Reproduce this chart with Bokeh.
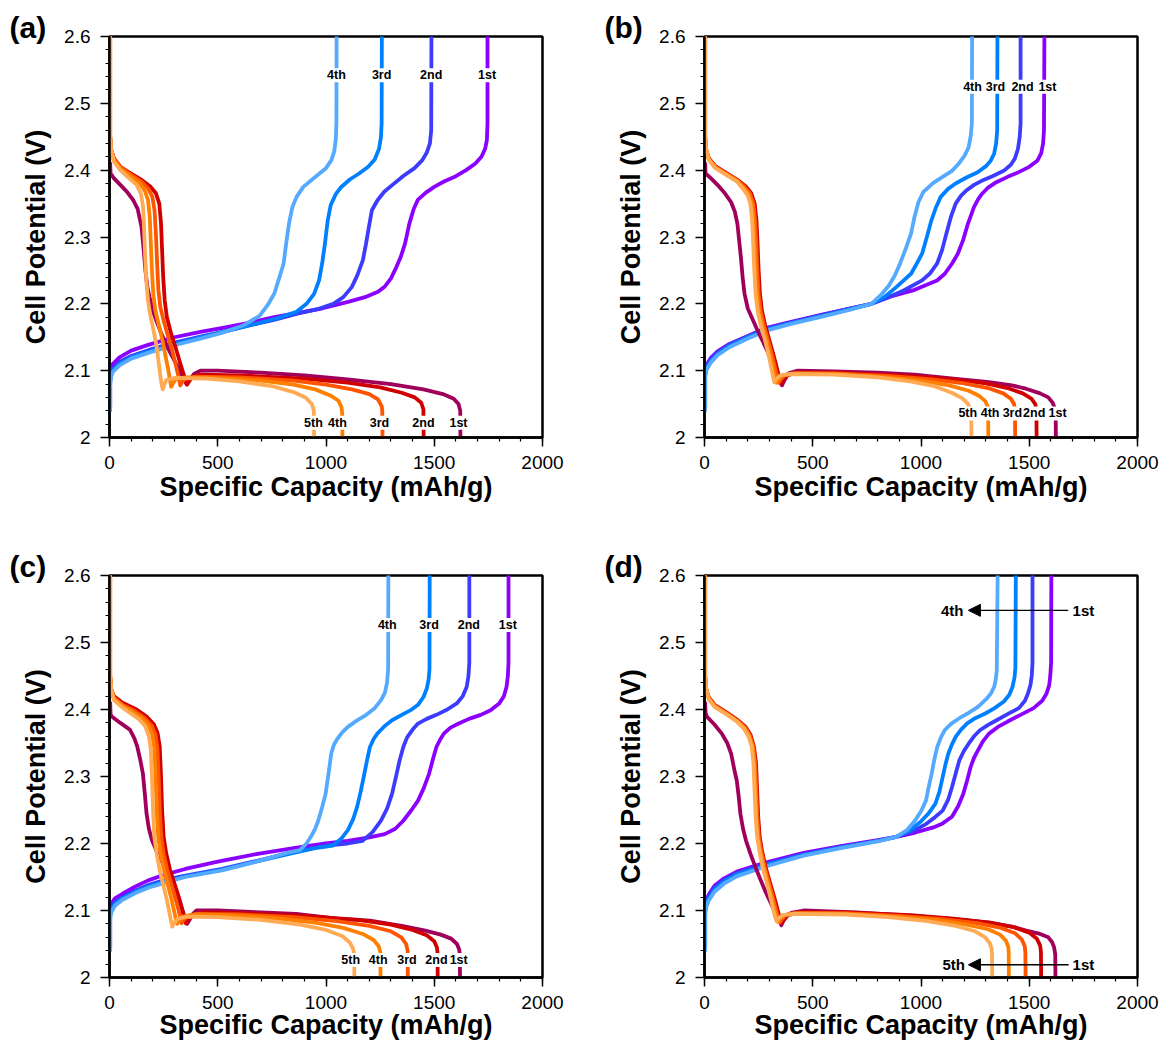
from bokeh.plotting import figure
from bokeh.models import FixedTicker, Label, LabelSet, ColumnDataSource, Arrow, NormalHead, Range1d, Title
from bokeh.core.properties import value
from bokeh.layouts import column, row
from bokeh.embed import file_html
from bokeh.resources import INLINE

DIS_COLORS = ["#A0005C", "#D00000", "#FF5500", "#FF8000", "#FFAA55"]
CHG_COLORS = ["#8B00FF", "#3C3CFF", "#0080FF", "#55AAFF"]
TICK_X = [0, 500, 1000, 1500, 2000]
TICK_Y = [2.0, 2.1, 2.2, 2.3, 2.4, 2.5, 2.6]
X_TITLE = "Specific Capacity (mAh/g)"
Y_TITLE = "Cell Potential (V)"

# ---------------- panel (a) ----------------
A_D1 = [(3,2.41),(5,2.395),(20,2.388),(50,2.378),(80,2.368),(110,2.355),(130,2.342),(148,2.315),(158,2.28),(166,2.25),(175,2.225),(185,2.21),(200,2.19),(216,2.175),(240,2.155),(268,2.135),(295,2.118),(320,2.103),(340,2.09),(355,2.08),(368,2.085),(390,2.095),(420,2.1),(500,2.1),(700,2.097),(900,2.093),(1100,2.087),(1300,2.08),(1450,2.072),(1540,2.065),(1590,2.058),(1612,2.05),(1620,2.04),(1621,2.0)]
A_D2 = [(3,2.6),(3,2.45),(8,2.43),(20,2.418),(50,2.405),(100,2.395),(150,2.385),(190,2.375),(215,2.365),(230,2.35),(238,2.32),(243,2.28),(248,2.24),(255,2.205),(265,2.18),(285,2.155),(305,2.135),(325,2.113),(340,2.097),(352,2.085),(358,2.079),(366,2.083),(380,2.09),(420,2.094),(600,2.093),(900,2.088),(1100,2.082),(1250,2.075),(1350,2.067),(1410,2.06),(1440,2.052),(1450,2.042),(1451,2.0)]
A_D3 = [(3,2.6),(3,2.45),(8,2.43),(20,2.418),(50,2.405),(100,2.393),(150,2.382),(180,2.372),(198,2.36),(208,2.34),(215,2.3),(220,2.26),(226,2.22),(235,2.195),(250,2.175),(270,2.152),(290,2.13),(305,2.11),(318,2.092),(327,2.078),(335,2.083),(350,2.088),(400,2.091),(600,2.09),(850,2.085),(1000,2.079),(1120,2.072),(1200,2.065),(1240,2.057),(1257,2.047),(1260,2.04),(1261,2.0)]
A_D4 = [(3,2.6),(3,2.45),(8,2.43),(20,2.415),(50,2.402),(100,2.39),(140,2.38),(165,2.368),(178,2.355),(186,2.33),(191,2.29),(196,2.25),(202,2.215),(212,2.19),(228,2.168),(245,2.145),(260,2.12),(272,2.1),(280,2.085),(285,2.076),(292,2.08),(305,2.087),(350,2.09),(500,2.089),(700,2.085),(850,2.079),(950,2.072),(1020,2.063),(1058,2.055),(1072,2.045),(1075,2.035),(1076,2.0)]
A_D5 = [(3,2.6),(3,2.45),(8,2.43),(20,2.413),(50,2.4),(90,2.388),(125,2.378),(145,2.365),(155,2.345),(160,2.31),(165,2.27),(170,2.235),(178,2.205),(190,2.18),(205,2.158),(218,2.135),(228,2.11),(236,2.09),(242,2.077),(246,2.072),(252,2.078),(262,2.086),(300,2.089),(450,2.088),(600,2.084),(750,2.077),(850,2.068),(905,2.06),(935,2.05),(944,2.04),(945,2.0)]
A_C1 = [(3,2.045),(3,2.09),(6,2.102),(15,2.11),(46,2.12),(100,2.13),(182,2.139),(300,2.15),(420,2.158),(523,2.164),(650,2.172),(760,2.18),(864,2.186),(980,2.193),(1102,2.203),(1180,2.21),(1240,2.218),(1272,2.226),(1300,2.238),(1325,2.255),(1345,2.27),(1365,2.29),(1385,2.32),(1405,2.342),(1425,2.356),(1460,2.366),(1500,2.375),(1545,2.383),(1600,2.391),(1647,2.4),(1690,2.41),(1718,2.42),(1735,2.432),(1743,2.445),(1746,2.47),(1746,2.6)]
A_C2 = [(3,2.045),(3,2.085),(6,2.095),(15,2.103),(46,2.113),(100,2.122),(182,2.131),(300,2.142),(420,2.151),(523,2.158),(650,2.168),(760,2.176),(864,2.185),(960,2.192),(1034,2.2),(1080,2.21),(1119,2.225),(1145,2.243),(1170,2.265),(1185,2.29),(1198,2.315),(1212,2.34),(1238,2.355),(1270,2.368),(1307,2.378),(1360,2.392),(1409,2.403),(1445,2.415),(1465,2.426),(1480,2.44),(1486,2.46),(1487,2.6)]
A_C3 = [(3,2.045),(3,2.082),(6,2.092),(15,2.1),(46,2.11),(100,2.12),(182,2.129),(300,2.14),(420,2.15),(523,2.158),(650,2.168),(760,2.177),(864,2.188),(910,2.2),(945,2.215),(968,2.235),(983,2.262),(995,2.29),(1008,2.325),(1022,2.348),(1045,2.364),(1068,2.374),(1110,2.386),(1153,2.395),(1195,2.405),(1225,2.416),(1245,2.432),(1254,2.45),(1257,2.47),(1258,2.6)]
A_C4 = [(3,2.04),(3,2.08),(6,2.09),(15,2.098),(46,2.108),(100,2.118),(182,2.127),(300,2.138),(420,2.148),(523,2.157),(620,2.168),(693,2.182),(730,2.198),(761,2.215),(785,2.24),(804,2.26),(818,2.295),(830,2.322),(845,2.345),(864,2.36),(895,2.375),(932,2.385),(970,2.395),(1000,2.403),(1025,2.415),(1038,2.428),(1045,2.445),(1048,2.47),(1049,2.6)]
A_CHG_LBL = ["4th", "3rd", "2nd", "1st"]
A_CHG_LBL_X = [1048, 1257, 1486, 1744]
A_CHG_LBL_Y = 2.542
A_DIS_LBL = ["5th", "4th", "3rd", "2nd", "1st"]
A_DIS_LBL_X = [942, 1053, 1247, 1450, 1612]
A_DIS_LBL_Y = 2.022

# ---------------- panel (b) ----------------
B_D1 = [(3,2.41),(5,2.395),(29,2.388),(60,2.378),(95,2.365),(123,2.352),(140,2.338),(152,2.32),(160,2.295),(168,2.27),(176,2.24),(185,2.215),(200,2.193),(218,2.18),(245,2.16),(269,2.144),(295,2.126),(320,2.108),(340,2.092),(352,2.082),(358,2.078),(368,2.085),(389,2.096),(430,2.1),(600,2.099),(800,2.097),(971,2.094),(1150,2.088),(1314,2.083),(1420,2.078),(1485,2.073),(1550,2.066),(1588,2.06),(1608,2.052),(1618,2.044),(1622,2.035),(1623,2.0)]
B_D2 = [(3,2.6),(3,2.45),(8,2.43),(20,2.418),(50,2.406),(100,2.396),(150,2.386),(190,2.376),(215,2.366),(232,2.35),(240,2.325),(245,2.29),(250,2.25),(256,2.215),(265,2.19),(280,2.168),(300,2.145),(320,2.122),(335,2.103),(345,2.09),(352,2.081),(360,2.085),(380,2.093),(430,2.097),(600,2.097),(900,2.093),(1150,2.087),(1300,2.081),(1400,2.074),(1470,2.066),(1510,2.058),(1528,2.05),(1533,2.04),(1534,2.0)]
B_D3 = [(3,2.6),(3,2.45),(8,2.43),(20,2.417),(50,2.405),(100,2.395),(150,2.385),(185,2.375),(210,2.365),(226,2.35),(234,2.325),(239,2.29),(244,2.25),(250,2.215),(259,2.19),(274,2.168),(294,2.145),(313,2.122),(327,2.103),(336,2.09),(342,2.082),(350,2.086),(370,2.093),(420,2.096),(600,2.096),(850,2.092),(1050,2.087),(1200,2.081),(1310,2.074),(1380,2.066),(1415,2.058),(1430,2.05),(1434,2.04),(1435,2.0)]
B_D4 = [(3,2.6),(3,2.45),(8,2.43),(20,2.416),(50,2.404),(100,2.394),(150,2.384),(180,2.374),(204,2.364),(219,2.35),(227,2.325),(232,2.29),(237,2.25),(243,2.215),(252,2.19),(267,2.168),(287,2.145),(305,2.122),(318,2.103),(326,2.09),(332,2.082),(340,2.086),(360,2.093),(410,2.096),(600,2.095),(800,2.091),(1000,2.085),(1130,2.078),(1220,2.07),(1270,2.062),(1298,2.054),(1308,2.046),(1310,2.038),(1311,2.0)]
B_D5 = [(3,2.6),(3,2.45),(8,2.43),(20,2.415),(50,2.403),(100,2.393),(150,2.383),(175,2.373),(198,2.363),(212,2.35),(220,2.325),(225,2.29),(230,2.25),(236,2.215),(245,2.19),(260,2.168),(280,2.145),(297,2.122),(309,2.103),(317,2.09),(322,2.083),(330,2.087),(350,2.093),(400,2.095),(600,2.094),(800,2.09),(950,2.084),(1060,2.077),(1142,2.067),(1190,2.059),(1215,2.051),(1228,2.043),(1232,2.036),(1233,2.0)]
B_C1 = [(3,2.045),(3,2.1),(8,2.108),(29,2.119),(60,2.129),(115,2.14),(200,2.152),(286,2.164),(400,2.173),(543,2.184),(660,2.192),(771,2.2),(870,2.212),(971,2.221),(1074,2.235),(1110,2.245),(1143,2.26),(1170,2.275),(1194,2.295),(1215,2.318),(1245,2.345),(1265,2.357),(1280,2.364),(1310,2.374),(1348,2.382),(1400,2.39),(1451,2.397),(1500,2.405),(1537,2.414),(1555,2.425),(1564,2.44),(1568,2.46),(1570,2.6)]
B_C2 = [(3,2.045),(3,2.097),(8,2.105),(29,2.117),(60,2.127),(115,2.139),(200,2.151),(286,2.163),(400,2.172),(543,2.183),(660,2.192),(771,2.2),(850,2.21),(920,2.22),(1005,2.235),(1040,2.245),(1074,2.26),(1097,2.28),(1117,2.305),(1138,2.33),(1160,2.35),(1185,2.362),(1211,2.37),(1245,2.378),(1280,2.384),(1330,2.391),(1382,2.399),(1415,2.408),(1433,2.417),(1448,2.432),(1456,2.45),(1460,2.47),(1460,2.6)]
B_C3 = [(3,2.045),(3,2.093),(8,2.102),(29,2.114),(60,2.125),(115,2.137),(200,2.15),(286,2.162),(400,2.171),(543,2.182),(660,2.191),(771,2.2),(830,2.21),(886,2.225),(920,2.235),(954,2.245),(980,2.26),(1005,2.275),(1027,2.3),(1048,2.325),(1070,2.345),(1091,2.36),(1125,2.372),(1160,2.38),(1210,2.389),(1262,2.397),(1300,2.406),(1322,2.414),(1338,2.425),(1347,2.44),(1352,2.46),(1353,2.6)]
B_C4 = [(3,2.04),(3,2.09),(8,2.1),(29,2.112),(60,2.123),(115,2.135),(200,2.148),(286,2.16),(400,2.17),(543,2.181),(660,2.19),(771,2.2),(820,2.215),(851,2.227),(880,2.243),(903,2.26),(930,2.283),(954,2.305),(970,2.33),(988,2.352),(1010,2.367),(1057,2.381),(1100,2.39),(1143,2.399),(1175,2.41),(1200,2.421),(1220,2.434),(1230,2.452),(1235,2.47),(1236,2.6)]
B_CHG_LBL = ["4th", "3rd", "2nd", "1st"]
B_CHG_LBL_X = [1238, 1344, 1469, 1584]
B_CHG_LBL_Y = 2.525
B_DIS_LBL = ["5th", "4th", "3rd", "2nd", "1st"]
B_DIS_LBL_X = [1216, 1319, 1422, 1523, 1631]
B_DIS_LBL_Y = 2.036

# ---------------- panel (c) ----------------
C_D1 = [(3,2.41),(5,2.393),(9,2.39),(50,2.38),(94,2.37),(115,2.357),(128,2.345),(142,2.325),(154,2.305),(163,2.275),(171,2.245),(182,2.222),(196,2.205),(220,2.187),(247,2.17),(275,2.152),(299,2.135),(320,2.118),(338,2.1),(350,2.087),(358,2.08),(368,2.085),(385,2.095),(401,2.1),(500,2.1),(700,2.097),(862,2.095),(1050,2.088),(1203,2.085),(1350,2.077),(1459,2.07),(1530,2.064),(1578,2.058),(1605,2.05),(1615,2.042),(1618,2.035),(1619,2.0)]
C_D2 = [(3,2.6),(3,2.45),(8,2.43),(20,2.42),(60,2.41),(125,2.4),(170,2.39),(205,2.378),(222,2.365),(232,2.345),(238,2.3),(243,2.25),(250,2.21),(262,2.185),(280,2.16),(300,2.14),(320,2.12),(335,2.102),(345,2.089),(352,2.081),(360,2.085),(380,2.093),(430,2.097),(600,2.096),(900,2.092),(1150,2.086),(1300,2.079),(1400,2.071),(1465,2.063),(1500,2.054),(1512,2.045),(1515,2.038),(1516,2.0)]
C_D3 = [(3,2.6),(3,2.45),(8,2.43),(20,2.418),(60,2.407),(115,2.398),(160,2.388),(195,2.376),(212,2.363),(221,2.343),(227,2.3),(232,2.25),(239,2.21),(250,2.185),(267,2.16),(285,2.14),(303,2.12),(318,2.102),(327,2.089),(333,2.081),(340,2.085),(360,2.092),(410,2.095),(600,2.094),(850,2.09),(1050,2.084),(1200,2.077),(1300,2.069),(1348,2.06),(1370,2.05),(1377,2.04),(1378,2.0)]
C_D4 = [(3,2.6),(3,2.45),(8,2.43),(20,2.416),(60,2.405),(105,2.397),(150,2.387),(180,2.376),(198,2.362),(207,2.343),(213,2.3),(218,2.25),(225,2.21),(236,2.185),(252,2.16),(268,2.14),(284,2.12),(298,2.1),(306,2.088),(312,2.08),(320,2.084),(340,2.091),(390,2.094),(550,2.093),(750,2.089),(950,2.082),(1080,2.074),(1170,2.065),(1220,2.056),(1243,2.047),(1251,2.038),(1252,2.0)]
C_D5 = [(3,2.6),(3,2.45),(8,2.43),(20,2.414),(60,2.403),(90,2.396),(135,2.386),(165,2.375),(182,2.36),(191,2.34),(196,2.3),(201,2.25),(207,2.21),(218,2.185),(232,2.16),(247,2.14),(262,2.12),(275,2.1),(284,2.085),(290,2.076),(298,2.081),(315,2.088),(360,2.091),(500,2.09),(700,2.086),(880,2.079),(1000,2.071),(1075,2.062),(1110,2.052),(1125,2.043),(1130,2.035),(1131,2.0)]
C_C1 = [(3,2.045),(3,2.1),(8,2.11),(25,2.118),(60,2.125),(120,2.136),(179,2.145),(260,2.154),(350,2.162),(500,2.173),(691,2.185),(850,2.193),(998,2.2),(1100,2.204),(1200,2.209),(1271,2.214),(1320,2.222),(1357,2.234),(1395,2.25),(1425,2.264),(1452,2.283),(1476,2.304),(1494,2.326),(1510,2.344),(1527,2.355),(1544,2.364),(1575,2.373),(1613,2.379),(1660,2.386),(1715,2.392),(1760,2.399),(1800,2.409),(1822,2.42),(1834,2.434),(1840,2.45),(1843,2.47),(1843,2.6)]
C_C2 = [(3,2.045),(3,2.095),(8,2.104),(25,2.113),(60,2.12),(120,2.13),(179,2.138),(260,2.146),(350,2.152),(520,2.162),(691,2.175),(850,2.187),(998,2.197),(1100,2.2),(1169,2.204),(1215,2.217),(1254,2.234),(1282,2.252),(1305,2.274),(1322,2.298),(1340,2.324),(1357,2.344),(1374,2.358),(1400,2.37),(1425,2.379),(1465,2.386),(1510,2.392),(1560,2.4),(1604,2.409),(1632,2.42),(1650,2.434),(1658,2.45),(1662,2.47),(1662,2.6)]
C_C3 = [(3,2.045),(3,2.092),(8,2.101),(25,2.11),(60,2.118),(120,2.128),(179,2.136),(260,2.144),(350,2.151),(520,2.161),(691,2.174),(850,2.186),(950,2.193),(1032,2.197),(1070,2.207),(1101,2.22),(1125,2.236),(1143,2.254),(1160,2.277),(1177,2.304),(1190,2.325),(1203,2.344),(1220,2.356),(1237,2.364),(1270,2.375),(1305,2.384),(1350,2.392),(1391,2.399),(1425,2.407),(1451,2.419),(1466,2.432),(1474,2.445),(1478,2.46),(1479,2.6)]
C_C4 = [(3,2.04),(3,2.088),(8,2.097),(25,2.107),(60,2.116),(120,2.126),(179,2.134),(260,2.142),(350,2.15),(520,2.16),(691,2.174),(820,2.186),(879,2.19),(910,2.2),(930,2.21),(950,2.222),(964,2.234),(982,2.254),(998,2.274),(1012,2.305),(1024,2.334),(1036,2.347),(1050,2.355),(1075,2.366),(1101,2.374),(1140,2.383),(1186,2.392),(1225,2.402),(1254,2.414),(1272,2.425),(1282,2.44),(1287,2.46),(1288,2.6)]
C_CHG_LBL = ["4th", "3rd", "2nd", "1st"]
C_CHG_LBL_X = [1283, 1476, 1660, 1840]
C_CHG_LBL_Y = 2.526
C_DIS_LBL = ["5th", "4th", "3rd", "2nd", "1st"]
C_DIS_LBL_X = [1114, 1241, 1374, 1510, 1613]
C_DIS_LBL_Y = 2.026

# ---------------- panel (d) ----------------
D_D1 = [(3,2.41),(5,2.395),(12,2.389),(45,2.378),(80,2.364),(105,2.35),(123,2.334),(138,2.31),(149,2.294),(158,2.27),(166,2.244),(178,2.222),(192,2.204),(212,2.185),(235,2.165),(260,2.145),(286,2.125),(312,2.107),(338,2.09),(350,2.082),(355,2.078),(365,2.085),(385,2.094),(406,2.097),(458,2.1),(700,2.097),(972,2.092),(1150,2.087),(1314,2.082),(1420,2.076),(1486,2.07),(1550,2.065),(1588,2.06),(1605,2.053),(1614,2.046),(1620,2.035),(1621,2.0)]
D_D2 = [(3,2.6),(3,2.45),(8,2.43),(20,2.418),(50,2.406),(100,2.396),(150,2.385),(190,2.374),(213,2.362),(228,2.345),(238,2.32),(243,2.28),(248,2.24),(255,2.21),(265,2.19),(282,2.165),(302,2.142),(322,2.12),(337,2.102),(347,2.09),(355,2.081),(363,2.085),(385,2.093),(440,2.097),(650,2.097),(950,2.093),(1150,2.088),(1320,2.082),(1430,2.075),(1500,2.067),(1535,2.058),(1550,2.048),(1554,2.038),(1555,2.0)]
D_D3 = [(3,2.6),(3,2.45),(8,2.43),(20,2.417),(50,2.405),(100,2.395),(150,2.384),(188,2.373),(210,2.361),(225,2.345),(234,2.32),(239,2.28),(244,2.24),(251,2.21),(261,2.19),(278,2.165),(297,2.142),(316,2.12),(330,2.102),(340,2.09),(347,2.082),(355,2.086),(375,2.093),(430,2.096),(650,2.096),(900,2.092),(1100,2.087),(1260,2.081),(1370,2.074),(1435,2.066),(1465,2.057),(1479,2.047),(1482,2.038),(1483,2.0)]
D_D4 = [(3,2.6),(3,2.45),(8,2.43),(20,2.416),(50,2.404),(100,2.394),(150,2.383),(186,2.372),(207,2.36),(222,2.345),(230,2.32),(235,2.28),(240,2.24),(247,2.21),(257,2.19),(273,2.165),(292,2.142),(310,2.12),(323,2.102),(333,2.09),(340,2.083),(348,2.087),(368,2.093),(420,2.096),(650,2.095),(880,2.091),(1070,2.086),(1210,2.079),(1310,2.072),(1365,2.064),(1392,2.055),(1403,2.046),(1405,2.038),(1406,2.0)]
D_D5 = [(3,2.6),(3,2.45),(8,2.43),(20,2.415),(50,2.403),(100,2.393),(150,2.382),(183,2.371),(204,2.359),(218,2.345),(226,2.32),(231,2.28),(236,2.24),(243,2.21),(253,2.19),(268,2.165),(287,2.142),(304,2.12),(317,2.102),(326,2.09),(333,2.084),(341,2.088),(360,2.093),(410,2.095),(650,2.094),(850,2.09),(1030,2.084),(1160,2.077),(1250,2.069),(1297,2.06),(1318,2.051),(1326,2.043),(1328,2.036),(1329,2.0)]
D_C1 = [(3,2.045),(3,2.105),(8,2.115),(20,2.124),(46,2.137),(90,2.148),(149,2.158),(286,2.172),(458,2.186),(629,2.196),(800,2.205),(886,2.21),(970,2.216),(1057,2.224),(1100,2.23),(1143,2.24),(1172,2.256),(1195,2.274),(1213,2.294),(1229,2.314),(1245,2.328),(1263,2.339),(1285,2.352),(1314,2.364),(1355,2.374),(1400,2.382),(1460,2.392),(1520,2.402),(1560,2.413),(1580,2.424),(1592,2.436),(1597,2.45),(1601,2.47),(1602,2.6)]
D_C2 = [(3,2.045),(3,2.102),(8,2.112),(20,2.121),(46,2.134),(90,2.146),(149,2.156),(286,2.17),(458,2.184),(629,2.195),(800,2.204),(886,2.21),(960,2.218),(1023,2.229),(1060,2.238),(1100,2.249),(1125,2.265),(1143,2.284),(1160,2.304),(1177,2.324),(1198,2.338),(1220,2.349),(1245,2.36),(1272,2.369),(1310,2.377),(1349,2.384),(1400,2.393),(1452,2.402),(1480,2.413),(1494,2.424),(1506,2.437),(1512,2.452),(1515,2.47),(1515,2.6)]
D_C3 = [(3,2.045),(3,2.098),(8,2.109),(20,2.118),(46,2.131),(90,2.143),(149,2.154),(286,2.168),(458,2.183),(629,2.194),(800,2.204),(886,2.21),(950,2.22),(997,2.232),(1035,2.245),(1066,2.259),(1085,2.277),(1100,2.299),(1113,2.318),(1126,2.334),(1143,2.348),(1160,2.359),(1185,2.37),(1212,2.379),(1250,2.387),(1297,2.394),(1340,2.402),(1383,2.412),(1408,2.422),(1423,2.434),(1432,2.448),(1436,2.462),(1438,2.6)]
D_C4 = [(3,2.04),(3,2.094),(8,2.105),(20,2.115),(46,2.128),(90,2.14),(149,2.151),(286,2.166),(458,2.182),(629,2.193),(800,2.203),(886,2.21),(935,2.22),(972,2.234),(1000,2.248),(1023,2.264),(1036,2.285),(1049,2.304),(1062,2.326),(1075,2.344),(1090,2.357),(1109,2.369),(1140,2.379),(1177,2.387),(1220,2.395),(1263,2.404),(1300,2.415),(1323,2.424),(1338,2.434),(1345,2.444),(1350,2.458),(1354,2.6)]
# arrow annotations of panel (d): (text_left, text_right, y, x_text_left_end, x_arrow_tip, x_arrow_tail, x_text_right_start)
D_ARROW_TOP = ("4th", "1st", 2.548, 1196, 1219, 1680, 1700)
D_ARROW_BOT = ("5th", "1st", 2.019, 1203, 1219, 1682, 1700)

FONT = "Liberation Sans"


def xy(pts):
    return [q[0] for q in pts], [q[1] for q in pts]


def make_panel(tag, dis, chg, w, h, bl, br, bt, bb, bottom_row):
    p = figure(width=w, height=h, x_range=Range1d(0, 2000), y_range=Range1d(2.0, 2.6),
               output_backend="svg", toolbar_location=None, title=tag,
               min_border_left=bl, min_border_right=br, min_border_top=bt, min_border_bottom=bb,
               y_axis_label=Y_TITLE)
    p.title.align = "left"
    p.title.offset = -100
    p.title.standoff = -14
    p.title.vertical_align = "bottom"
    p.title.text_font = FONT
    p.title.text_font_style = "bold"
    p.title.text_font_size = "30px"
    p.title.text_color = "black"
    p.grid.visible = False
    p.outline_line_color = "black"
    p.outline_line_width = 2.5
    p.outline_line_alpha = 1.0
    p.xaxis.ticker = FixedTicker(ticks=TICK_X, minor_ticks=list(range(0, 2001, 100)))
    p.yaxis.ticker = FixedTicker(ticks=TICK_Y, minor_ticks=[round(2.0 + 0.02 * i, 2) for i in range(31)])
    p.yaxis.major_label_overrides = {2.0: "2"}
    for ax in (p.xaxis[0], p.yaxis[0]):
        ax.axis_line_width = 2.5
        ax.axis_line_color = "black"
        ax.major_tick_line_width = 1.5
        ax.minor_tick_line_width = 1.2
        ax.major_tick_out = 9
        ax.major_tick_in = 0
        ax.minor_tick_out = 4
        ax.minor_tick_in = 0
        ax.major_label_text_font = FONT
        ax.major_label_text_font_size = "19px"
        ax.major_label_text_color = "black"
        ax.axis_label_text_font = FONT
        ax.axis_label_text_font_style = "bold"
        ax.axis_label_text_font_size = "27px"
        ax.axis_label_text_color = "black"
    p.yaxis.major_label_standoff = 10
    p.yaxis.axis_label_standoff = 10
    p.xaxis.major_label_standoff = 9
    if bottom_row:
        # x title placed in a thin panel below the axis so that the frame keeps its size;
        # like the original, it runs off the bottom edge of the picture
        p.add_layout(Title(text=X_TITLE, align="center", vertical_align="bottom", standoff=-8,
                           text_font=FONT, text_font_style="bold", text_font_size="27px",
                           text_color="black"), "below")
    else:
        p.xaxis.axis_label = X_TITLE
        p.xaxis.axis_label_standoff = 0

    for curve, col in zip(chg, CHG_COLORS):
        xs, ys = xy(curve)
        p.line(xs, ys, line_color=col, line_width=3.8, line_join="round", line_cap="round")
    for curve, col in zip(dis, DIS_COLORS):
        xs, ys = xy(curve)
        p.line(xs, ys, line_color=col, line_width=3.8, line_join="round", line_cap="round")
    return p


def add_labels(p, names, xs, y):
    src = ColumnDataSource(dict(x=xs, y=[y] * len(xs), t=names))
    p.add_layout(LabelSet(x="x", y="y", text="t", source=src, text_align="center",
                          text_baseline="middle", text_font=value(FONT), text_font_style="bold",
                          text_font_size="12.5px", text_color="black",
                          background_fill_color="white", background_fill_alpha=1.0))


def add_arrow(p, spec):
    left, right, y, xl, tip, tail, xr = spec
    p.add_layout(Arrow(end=NormalHead(size=12, fill_color="black", line_color="black", line_width=1),
                       x_start=tail, y_start=y, x_end=tip, y_end=y,
                       line_color="black", line_width=1.3))
    p.add_layout(Label(x=xl, y=y, text=left, text_align="right", text_baseline="middle",
                       text_font=FONT, text_font_style="bold", text_font_size="15px", text_color="black"))
    p.add_layout(Label(x=xr, y=y, text=right, text_align="left", text_baseline="middle",
                       text_font=FONT, text_font_style="bold", text_font_size="15px", text_color="black"))


pa = make_panel("(a)", [A_D1, A_D2, A_D3, A_D4, A_D5], [A_C1, A_C2, A_C3, A_C4], 580, 520, 109, 38, 36, 83, False)
add_labels(pa, A_CHG_LBL, A_CHG_LBL_X, A_CHG_LBL_Y)
add_labels(pa, A_DIS_LBL, A_DIS_LBL_X, A_DIS_LBL_Y)

pb = make_panel("(b)", [B_D1, B_D2, B_D3, B_D4, B_D5], [B_C1, B_C2, B_C3, B_C4], 583, 520, 124, 26, 36, 83, False)
add_labels(pb, B_CHG_LBL, B_CHG_LBL_X, B_CHG_LBL_Y)
add_labels(pb, B_DIS_LBL, B_DIS_LBL_X, B_DIS_LBL_Y)

pc = make_panel("(c)", [C_D1, C_D2, C_D3, C_D4, C_D5], [C_C1, C_C2, C_C3, C_C4], 580, 520, 109, 38, 55, 63, True)
add_labels(pc, C_CHG_LBL, C_CHG_LBL_X, C_CHG_LBL_Y)
add_labels(pc, C_DIS_LBL, C_DIS_LBL_X, C_DIS_LBL_Y)

pd = make_panel("(d)", [D_D1, D_D2, D_D3, D_D4, D_D5], [D_C1, D_C2, D_C3, D_C4], 583, 520, 124, 26, 55, 63, True)
add_arrow(pd, D_ARROW_TOP)
add_arrow(pd, D_ARROW_BOT)

layout = column(row(pa, pb), row(pc, pd))
open("out.html", "w").write(file_html(layout, INLINE))
